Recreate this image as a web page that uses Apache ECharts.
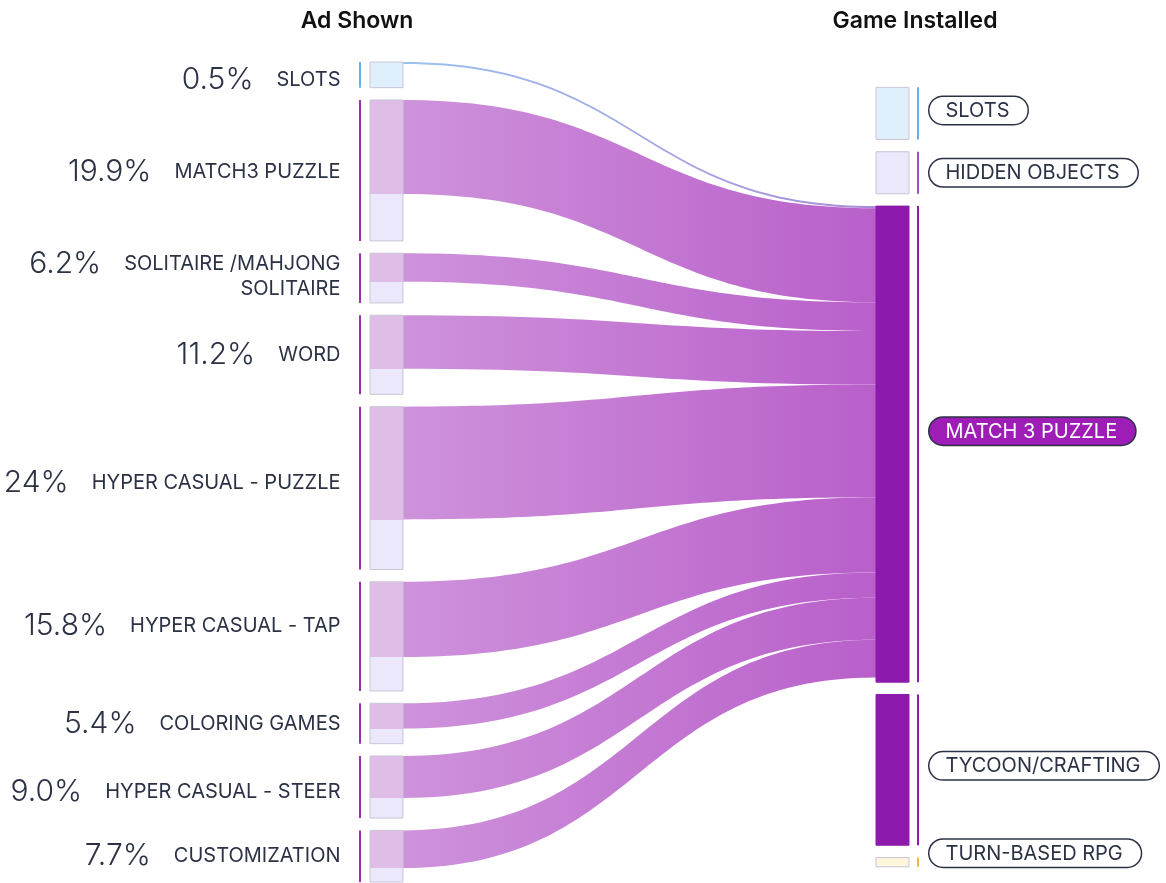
<!DOCTYPE html>
<html>
<head>
<meta charset="utf-8">
<title>Ad Shown / Game Installed</title>
<script src="https://cdn.jsdelivr.net/npm/echarts@6/dist/echarts.min.js"></script>
<style>
    html, body { margin: 0; padding: 0; background: #fff; }
    #main { width: 1166px; height: 883px; }
</style>
</head>
<body>
<div id="main"></div>
<script>
// left column: genre of the ad shown
var adNames = ['SLOTS', 'MATCH3 PUZZLE', 'SOLITAIRE /MAHJONG\nSOLITAIRE', 'WORD', 'HYPER CASUAL - PUZZLE',
    'HYPER CASUAL - TAP', 'COLORING GAMES', 'HYPER CASUAL - STEER', 'CUSTOMIZATION'];
var adShare = ['0.5%', '19.9%', '6.2%', '11.2%', '24%', '15.8%', '5.4%', '9.0%', '7.7%'];
var adSize = [3.66, 20.1, 7.09, 11.29, 23.23, 15.57, 5.76, 8.86, 7.36];
// part of each ad genre that ended in a match 3 install
var toMatch3 = [0.3, 13.43, 4.09, 7.63, 16.09, 10.71, 3.61, 6.0, 5.37];

// right column: genre of the game installed
var gameNames = ['SLOTS', 'HIDDEN OBJECTS', 'MATCH 3 PUZZLE', 'TYCOON/CRAFTING', 'TURN-BASED RPG'];
var gameSize = [7.43, 6.0, 67.9, 21.5, 1.33];
var topSpace = 1.86; // empty room above the right column

var ink = '#2b3245';
var font = 'Inter, "Noto Sans", sans-serif';
var boxBorder = '#c9c5d6';
var gameFill = ['#e0effc', '#ebe8fc', '#8e1aad', '#8e1aad', '#fdf5dc'];
var gameLine = ['#6aaee8', '#9b4fc0', '#8e1aad', '#8e1aad', '#e8b84a'];

// small nudges so labels sit where they do in the picture
var adShift = [5, 2, -3, 0, -5, -10, 0, 5, 0];
var pillShift = [-3, 0, -13, -4, -9];

function twoTone(f) {
    return new echarts.graphic.LinearGradient(0, 0, 0, 1, [
        {offset: 0, color: '#e0bde6'},
        {offset: f, color: '#e0bde6'},
        {offset: f, color: '#ebe8fc'},
        {offset: 1, color: '#ebe8fc'}
    ]);
}

function adLabel(i) {
    var lines = adNames[i].split('\n');
    var txt = '{p|' + adShare[i] + '}{s|}{n|' + lines[0] + '}';
    for (var k = 1; k < lines.length; k++) {
        txt += '\n{n|' + lines[k] + '}';
    }
    return txt;
}

// nodes of the main sankey, and the thin bars beside them
var nodes = [];
var brackets = [];
adNames.forEach(function(n, i) {
    nodes.push({
        name: 'ad' + i,
        value: adSize[i],
        depth: 0,
        itemStyle: {
            color: i === 0 ? '#e0effc' : twoTone(toMatch3[i] / adSize[i]),
            borderColor: boxBorder,
            borderWidth: 1
        },
        label: {
            position: 'left',
            distance: 29,
            offset: [0, adShift[i]],
            formatter: adLabel(i)
        }
    });
    brackets.push({
        name: 'ad' + i,
        value: adSize[i],
        depth: 0,
        itemStyle: {color: i === 0 ? '#6aaee8' : '#9b30b5'}
    });
});
nodes.push({
    name: 'space', value: topSpace, depth: 1,
    itemStyle: {color: 'rgba(0,0,0,0)', borderWidth: 0},
    label: {show: false}
});
brackets.push({
    name: 'space', value: topSpace, depth: 1,
    itemStyle: {color: 'rgba(0,0,0,0)'}
});
gameNames.forEach(function(n, i) {
    var dark = i === 2 || i === 3;
    nodes.push({
        name: 'game' + i,
        value: gameSize[i],
        depth: 1,
        itemStyle: {
            color: gameFill[i],
            borderColor: dark ? gameFill[i] : boxBorder,
            borderWidth: 1
        },
        label: {
            position: 'right',
            distance: 20,
            offset: [0, pillShift[i]],
            formatter: n,
            fontSize: 20,
            color: i === 2 ? '#fff' : ink,
            backgroundColor: i === 2 ? '#9d1db6' : '#fff',
            borderColor: ink,
            borderWidth: 1.5,
            borderRadius: 16,
            padding: [4, 18, 3, 16]
        }
    });
    brackets.push({
        name: 'game' + i,
        value: gameSize[i],
        depth: 1,
        itemStyle: {color: gameLine[i]}
    });
});

var links = toMatch3.map(function(v, i) {
    var from = i === 0 ? '#9cc3f0' : '#ce92db';
    var to = i === 0 ? '#a88ad8' : '#b95fca';
    return {
        source: 'ad' + i,
        target: 'game2',
        value: v,
        lineStyle: {
            color: new echarts.graphic.LinearGradient(0, 0, 1, 0, [
                {offset: 0, color: from},
                {offset: 1, color: to}
            ])
        }
    };
});

var chart = echarts.init(document.getElementById('main'));

var titleStyle = {fontSize: 23, fontWeight: 600, color: '#111', fontFamily: font};
var option = {
    animation: false,
    textStyle: {fontFamily: font},
    title: [{
        text: 'Ad Shown',
        left: 357,
        top: 10,
        padding: 0,
        textAlign: 'center',
        textStyle: titleStyle
    }, {
        text: 'Game Installed',
        left: 915,
        top: 10,
        padding: 0,
        textAlign: 'center',
        textStyle: titleStyle
    }],
    series: [{
        type: 'sankey',
        left: 359,
        right: 247,
        top: 62,
        bottom: 1,
        nodeWidth: 2,
        nodeGap: 12.3,
        layoutIterations: 0,
        draggable: false,
        silent: true,
        label: {show: false},
        data: brackets,
        links: []
    }, {
        type: 'sankey',
        left: 370,
        right: 257,
        top: 62,
        bottom: 1,
        nodeWidth: 33,
        nodeGap: 12.3,
        layoutIterations: 0,
        draggable: false,
        silent: true,
        emphasis: {disabled: true},
        lineStyle: {curveness: 0.5, opacity: 1},
        label: {
            fontFamily: font,
            color: ink,
            rich: {
                p: {fontSize: 30, fontWeight: 300, color: ink, fontFamily: font, lineHeight: 28},
                s: {width: 23},
                n: {fontSize: 20, color: ink, fontFamily: font, lineHeight: 22}
            }
        },
        data: nodes,
        links: links
    }]
};

chart.setOption(option);
</script>
</body>
</html>
